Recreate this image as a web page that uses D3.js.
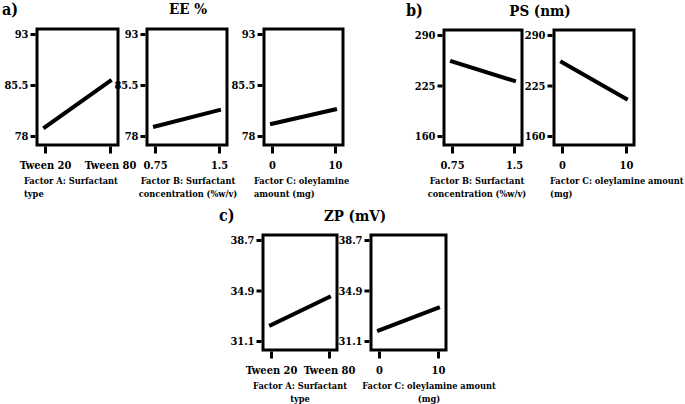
<!DOCTYPE html>
<html><head><meta charset="utf-8">
<script src="https://cdn.jsdelivr.net/npm/d3@7"></script>
<style>
html,body{margin:0;padding:0;background:#fff;}
</style></head>
<body><svg id="c" width="685" height="404"></svg>
<script>
// ---------- data ----------
const eeTicks = [78, 85.5, 93];
const psTicks = [160, 225, 290];
const zpTicks = [31.1, 34.9, 38.7];

const surfactantType = ["Tween 20", "Tween 80"];
const surfactantConc = ["0.75", "1.5"];
const oleylamineAmt  = ["0", "10"];

const eeVsA = [79.3, 86.1];
const eeVsB = [79.4, 81.8];
const eeVsC = [79.8, 81.9];
const psVsB = [256, 231];
const psVsC = [255, 208];
const zpVsA = [32.3, 34.4];
const zpVsC = [31.9, 33.6];

const titleA = ["Factor A: Surfactant", "type"];
const titleB = ["Factor B: Surfactant", "concentration (%w/v)"];
const titleC1 = ["Factor C: oleylamine", "amount (mg)"];
const titleC2 = ["Factor C: oleylamine amount", "(mg)"];

// ---------- layout ----------
const FONT = "'DejaVu Serif Condensed', 'DejaVu Serif', serif";
const panels = [
  {left:37,  top:29,  w:81, h:116, cats:surfactantType, vals:eeVsA, ticks:eeTicks, title:titleA,  align:"start",  tx:24},
  {left:147, top:29,  w:80, h:116, cats:surfactantConc, vals:eeVsB, ticks:eeTicks, title:titleB,  align:"middle", tx:188},
  {left:264, top:29,  w:79, h:116, cats:oleylamineAmt,  vals:eeVsC, ticks:eeTicks, title:titleC1, align:"start",  tx:254},
  {left:444, top:30,  w:78, h:115, cats:surfactantConc, vals:psVsB, ticks:psTicks, title:titleB,  align:"middle", tx:477},
  {left:554, top:30,  w:80, h:115, cats:oleylamineAmt,  vals:psVsC, ticks:psTicks, title:titleC2, align:"start",  tx:550},
  {left:263, top:235, w:74, h:115, cats:surfactantType, vals:zpVsA, ticks:zpTicks, title:titleA,  align:"middle", tx:300},
  {left:371, top:235, w:75, h:115, cats:oleylamineAmt,  vals:zpVsC, ticks:zpTicks, title:titleC2, align:"middle", tx:429}
];

const svg = d3.select("#c");

panels.forEach(p => {
  const g = svg.append("g");
  const right = p.left + p.w, bottom = p.top + p.h;
  const y = d3.scaleLinear().domain([p.ticks[0], p.ticks[2]]).range([bottom - 9, p.top + 5]);
  const x = d3.scalePoint().domain(p.cats).range([p.left + 8, right - 8]);

  g.append("rect").attr("x", p.left).attr("y", p.top).attr("width", p.w).attr("height", p.h)
    .attr("fill", "#fff").attr("stroke", "#000").attr("stroke-width", 3);

  const ya = g.append("g").attr("transform", `translate(${p.left - 1.5},0)`)
    .call(d3.axisLeft(y).tickValues(p.ticks).tickSize(5).tickPadding(2).tickFormat(d => String(d)));
  ya.attr("font-family", FONT).attr("font-weight", "bold").attr("font-size", 11);
  ya.select(".domain").remove();
  ya.selectAll(".tick line").attr("stroke", "#000").attr("stroke-width", 3);
  ya.selectAll(".tick text").attr("fill", "#000");

  const xa = g.append("g").attr("transform", `translate(0,${bottom + 1.5})`)
    .call(d3.axisBottom(x).tickSize(7).tickPadding(8));
  xa.attr("font-family", FONT).attr("font-weight", "bold").attr("font-size", 11);
  xa.select(".domain").remove();
  xa.selectAll(".tick line").attr("stroke", "#000").attr("stroke-width", 3);
  xa.selectAll(".tick text").attr("fill", "#000");

  const line = d3.line().x(d => x(d[0])).y(d => y(d[1]));
  g.append("path").datum(p.cats.map((c, i) => [c, p.vals[i]]))
    .attr("d", line).attr("fill", "none").attr("stroke", "#000")
    .attr("stroke-width", 4).attr("stroke-linecap", "square");

  p.title.forEach((t, i) => {
    g.append("text").attr("x", p.tx).attr("y", bottom + 39 + i * 13)
      .attr("font-family", FONT).attr("font-weight", "bold")
      .attr("text-anchor", p.align).attr("font-size", 9.2).text(t);
  });
});

const headings = [
  {t:"a)", x:2, y:15, s:16, a:"start"},
  {t:"EE %", x:188, y:14, s:15, a:"middle"},
  {t:"b)", x:406, y:16, s:16, a:"start"},
  {t:"PS (nm)", x:540, y:16, s:15, a:"middle"},
  {t:"c)", x:219, y:221, s:16, a:"start"},
  {t:"ZP (mV)", x:355, y:221, s:15, a:"middle"}
];
headings.forEach(h => svg.append("text").attr("x", h.x).attr("y", h.y)
  .attr("font-family", FONT).attr("font-weight", "bold")
  .attr("font-size", h.s).attr("text-anchor", h.a).text(h.t));
</script></body></html>
